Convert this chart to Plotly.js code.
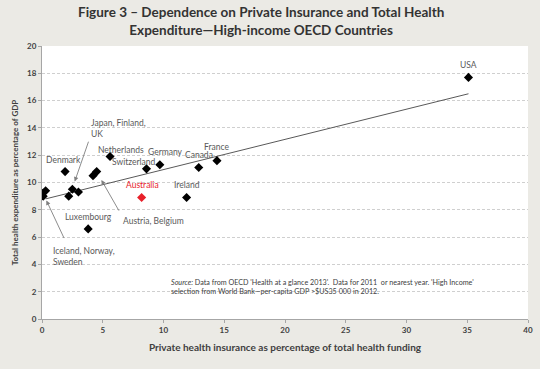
<!DOCTYPE html>
<html><head><meta charset="utf-8">
<script src="https://cdn.plot.ly/plotly-3.0.1.min.js"></script>
<style>html,body{margin:0;padding:0;background:#ebeae5;}#chart{width:540px;height:369px;}</style>
</head><body><div id="chart"></div>
<script>
// Countries (black diamonds)
const countries = ["USA","France","Canada","Ireland","Germany","Switzerland","Netherlands","Austria","Belgium","Luxembourg","Denmark","Japan","Finland","UK","Iceland","Norway","Sweden"];
const privateShare = [35.1,14.4,12.9,11.9,9.7,8.6,5.6,4.2,4.5,3.8,1.9,2.5,2.2,3.0,0.1,0.3,0.0];
const healthExp =    [17.7,11.6,11.1,8.9,11.3,11.0,11.9,10.5,10.8,6.6,10.8,9.5,9.0,9.3,9.0,9.4,9.2];
// Australia (red)
const ausX = [8.2];
const ausY = [8.9];
// Trendline end points
const trendX = [0.3, 35.1];
const trendY = [8.8, 16.5];
const xTicks = [0,5,10,15,20,25,30,35,40];
const yTicks = [0,2,4,6,8,10,12,14,16,18,20];

const F = "Lato, 'Open Sans', sans-serif";
const labelColor = "#595959";

const traces = [
  {x: trendX, y: trendY, mode: "lines", line: {color: "#595959", width: 1}, hoverinfo: "skip"},
  {x: privateShare, y: healthExp, text: countries, mode: "markers",
   marker: {symbol: "diamond", size: 7, color: "#000000"}},
  {x: ausX, y: ausY, mode: "markers", marker: {symbol: "diamond", size: 7, color: "#e8202a"}}
];

function lab(t, x, y, opts) {
  return Object.assign({text: t, x: x, y: y, xref: "x", yref: "y", showarrow: false,
    font: {family: F, size: 8.5, color: labelColor}}, opts || {});
}
function arrow(x, y, ax, ay) {
  return {text: "", x: x, y: y, ax: ax, ay: ay, xref: "x", yref: "y", axref: "x", ayref: "y",
    showarrow: true, arrowhead: 2, arrowsize: 1, arrowwidth: 0.9, arrowcolor: "#7f7f7f", standoff: 0};
}

const annotations = [
  {text: "<b>Figure 3 \u2013 Dependence on Private Insurance and Total Health<br>Expenditure\u2014High-income OECD Countries</b>",
   xref: "paper", yref: "paper", x: 0.451, y: 1.092, xanchor: "center", yanchor: "middle", showarrow: false,
   font: {family: F, size: 13.5, color: "#333333"}},
  lab("USA", 35.1, 18.6),
  lab("France", 14.4, 12.6),
  lab("Canada", 12.9, 12.05),
  lab("Germany", 10.2, 12.25),
  lab("Switzerland", 7.6, 11.5),
  lab("Netherlands", 6.5, 12.4),
  lab("Australia", 8.3, 9.85, {font: {family: F, size: 8.5, color: "#e8202a"}}),
  lab("Ireland", 11.9, 9.8),
  lab("Austria, Belgium", 9.2, 7.2),
  lab("Luxembourg", 3.8, 7.45),
  lab("Denmark", 1.75, 11.65),
  lab("Japan, Finland,<br>UK", 3.85, 13.98, {xanchor: "left", align: "left"}),
  lab("Iceland, Norway,<br>Sweden", 0.7, 4.55, {xanchor: "left", align: "left"}),
  arrow(2.69, 10.07, 3.87, 13.1),
  arrow(4.89, 10.18, 6.4, 7.83),
  arrow(0.36, 8.69, 1.87, 5.82),
  {text: "<i>Source:</i> Data from OECD 'Health at a glance 2013'.  Data for 2011  or nearest year. 'High Income'<br>selection from World Bank\u2014per-capita GDP >$US35 000 in 2012.",
   x: 10.45, y: 2.37, xref: "x", yref: "y", xanchor: "left", align: "left", showarrow: false,
   font: {family: F, size: 7.2, color: "#404040"}}
];

const layout = {
  width: 540, height: 369,
  paper_bgcolor: "#ebeae5", plot_bgcolor: "#ffffff",
  margin: {l: 42, r: 12, t: 46, b: 50},
  showlegend: false,
  xaxis: {range: [0, 40], tickvals: xTicks, ticktext: xTicks.map(String), showgrid: false, zeroline: false,
    showline: true, linecolor: "#a6a6a6", linewidth: 1, ticks: "outside", ticklen: 3, tickcolor: "#a6a6a6",
    tickfont: {family: F, size: 8, color: "#404040", weight: "bold"},
    title: {text: "<b>Private health insurance as percentage of total health funding</b>", standoff: 10,
      font: {family: F, size: 10, color: "#404040"}}},
  yaxis: {range: [0, 20], tickvals: yTicks, ticktext: yTicks.map(String), showgrid: true, gridcolor: "#cfcfcf",
    griddash: "3px,2px", gridwidth: 1, zeroline: false,
    showline: true, linecolor: "#a6a6a6", linewidth: 1, ticks: "outside", ticklen: 3, tickcolor: "#a6a6a6",
    tickfont: {family: F, size: 8, color: "#404040", weight: "bold"},
    title: {text: "<b>Total health expenditure as percentage of GDP</b>", standoff: 7,
      font: {family: F, size: 8, color: "#404040"}}},
  annotations: annotations
};

Plotly.newPlot("chart", traces, layout, {displayModeBar: false, staticPlot: true});
</script></body></html>
